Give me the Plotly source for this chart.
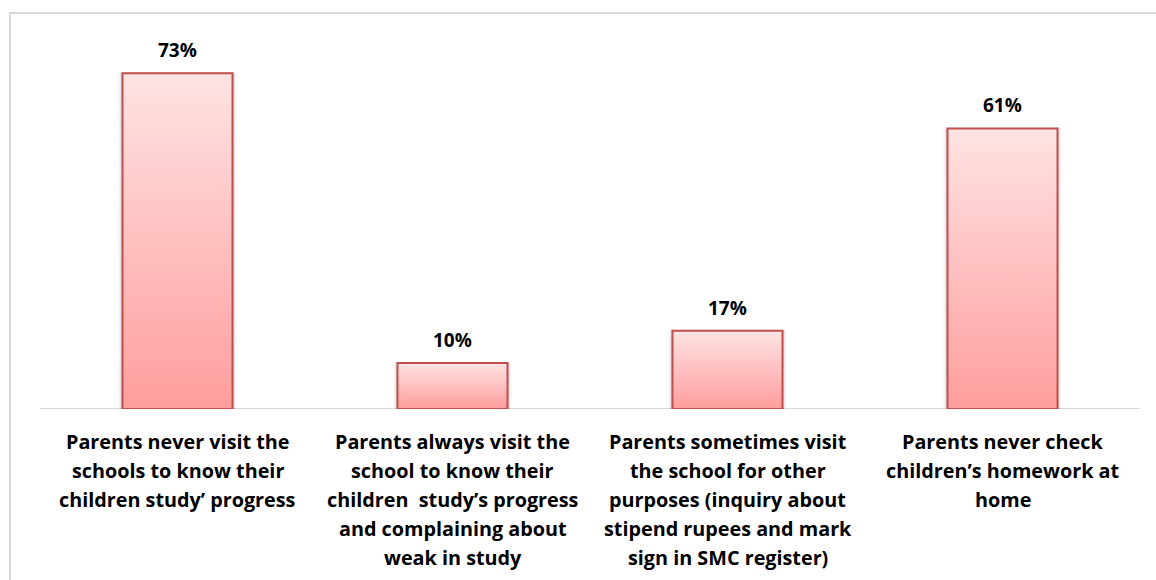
import plotly.graph_objects as go

# Survey responses on parental involvement
categories = [
    "Parents never visit the<br>schools to know their<br>children study\u2019 progress",
    "Parents always visit the<br>school to know their<br>children  study\u2019s progress<br>and complaining about<br>weak in study",
    "Parents sometimes visit<br>the school for other<br>purposes (inquiry about<br>stipend rupees and mark<br>sign in SMC register)",
    "Parents never check<br>children\u2019s homework at<br>home",
]
values = [73, 10, 17, 61]
value_labels = ["73%", "10%", "17%", "61%"]

FONT = "Open Sans"
HALF_W = 0.2
PX_X = 4 / 1100   # one pixel in x data units
PX_Y = 80 / 368   # one pixel in y data units

fig = go.Figure()

# Soft drop shadow around each bar
for i, v in enumerate(values):
    for grow, alpha in ((4, 0.04), (2.5, 0.06), (1.2, 0.08)):
        dx = HALF_W + grow * PX_X
        top = v + grow * PX_Y * 0.3
        bot = -grow * PX_Y
        fig.add_trace(go.Scatter(
            x=[i - dx, i + dx, i + dx, i - dx, i - dx],
            y=[bot, bot, top, top, bot],
            mode="lines", fill="toself", line=dict(width=0),
            fillcolor="rgba(0,0,0,%s)" % alpha,
            hoverinfo="skip", showlegend=False,
        ))

# Each bar drawn as a filled polygon so it can carry a vertical gradient
for i, v in enumerate(values):
    xs = [i - HALF_W, i + HALF_W, i + HALF_W, i - HALF_W, i - HALF_W]
    ys = [0, 0, v, v, 0]
    fig.add_trace(go.Scatter(
        x=xs, y=ys, mode="lines", fill="toself",
        line=dict(color="#c0504d", width=2),
        fillgradient=dict(type="vertical",
                          colorscale=[[0, "#ff9d9d"], [1, "#ffe3e3"]]),
        hoverinfo="skip", showlegend=False,
    ))

# Value labels above bars
for i, (v, t) in enumerate(zip(values, value_labels)):
    fig.add_annotation(x=i, y=v, text="<b>%s</b>" % t, showarrow=False,
                       yanchor="bottom", yshift=8,
                       font=dict(family=FONT, size=19, color="#000000"))

# Category labels under the axis, one annotation per line
for i, cat in enumerate(categories):
    for j, line in enumerate(cat.split("<br>")):
        fig.add_annotation(x=i, y=0, xref="x", yref="y", text="<b>%s</b>" % line,
                           showarrow=False, yanchor="middle",
                           yshift=-32 - 29 * j,
                           font=dict(family=FONT, size=19.8, color="#000000"))

# Baseline
fig.add_shape(type="line", xref="paper", yref="y", x0=0, x1=1, y0=0, y1=0,
              line=dict(color="#d9d9d9", width=2), layer="below")

# Outer chart border (left and top edges visible)
fig.add_shape(type="rect", xref="paper", yref="paper",
              x0=-30 / 1100, x1=1.2, y0=1 + 28 / 368, y1=-1,
              line=dict(color="#d9d9d9", width=2), layer="below")

fig.update_layout(
    width=1156, height=580,
    margin=dict(l=40, r=16, t=41, b=171),
    paper_bgcolor="white", plot_bgcolor="white",
    xaxis=dict(range=[-0.5, 3.5], showgrid=False, zeroline=False,
               showticklabels=False, ticks="", fixedrange=True),
    yaxis=dict(range=[0, 80], showgrid=False, zeroline=False,
               showticklabels=False, ticks="", fixedrange=True),
    font=dict(family=FONT),
)

fig.write_html("out.html")
